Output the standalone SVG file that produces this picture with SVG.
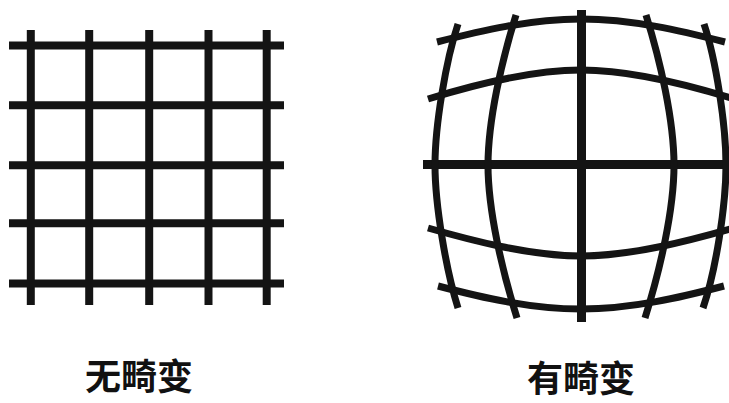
<svg xmlns="http://www.w3.org/2000/svg" width="729" height="403" viewBox="0 0 729 403">
<style>
.g{stroke:#141414;stroke-width:8;fill:none;stroke-linecap:butt}
.c{stroke:#141414;stroke-width:7;fill:none;stroke-linecap:butt}
.m{stroke:#141414;stroke-width:9;fill:none}
.t{font-family:"Noto Sans CJK SC","Noto Sans",sans-serif;font-size:36px;font-weight:bold;fill:#111;text-anchor:middle}
</style>
<rect width="729" height="403" fill="#fff"/>
<g id="grid-normal">
<line class="g" x1="30.8" y1="30" x2="30.8" y2="305"/>
<line class="g" x1="89.2" y1="30" x2="89.2" y2="305"/>
<line class="g" x1="149.2" y1="30" x2="149.2" y2="305"/>
<line class="g" x1="208.5" y1="30" x2="208.5" y2="305"/>
<line class="g" x1="266.7" y1="30" x2="266.7" y2="305"/>
<line class="g" x1="9" y1="45.5" x2="284" y2="45.5"/>
<line class="g" x1="9" y1="105.2" x2="284" y2="105.2"/>
<line class="g" x1="9" y1="165.2" x2="284" y2="165.2"/>
<line class="g" x1="9" y1="223.2" x2="284" y2="223.2"/>
<line class="g" x1="9" y1="283.5" x2="284" y2="283.5"/>
</g>
<g id="grid-distorted">
<path class="c" d="M437,42 C480,31 530,19 581,19 C632,19 682,31 725,42"/>
<path class="c" d="M428,99 C470,86 530,70 581,70 C632,70 692,86 734,99"/>
<line class="m" x1="423" y1="164.5" x2="729" y2="164.5"/>
<path class="c" d="M428,228 C470,240 530,256 581,256 C632,256 692,240 734,228"/>
<path class="c" d="M438,286 C480,297 530,309 581,309 C632,309 682,297 724,286"/>
<path class="c" d="M458,24 C446,60 435,125 435,165 C435,205 446,270 458,308"/>
<path class="c" d="M516,15 C502,60 488,120 488,165 C488,210 502,270 517,318"/>
<line class="m" x1="581.5" y1="10" x2="581.5" y2="322"/>
<path class="c" d="M646,15 C660,60 674,120 674,165 C674,210 660,270 645,318"/>
<path class="c" d="M704,24 C716,60 726,125 726,165 C726,205 716,270 703,308"/>
</g>
<g id="label-normal"><text class="t" x="139" y="390">无畸变</text></g>
<g id="label-distorted"><text class="t" x="581" y="392">有畸变</text></g>
</svg>
